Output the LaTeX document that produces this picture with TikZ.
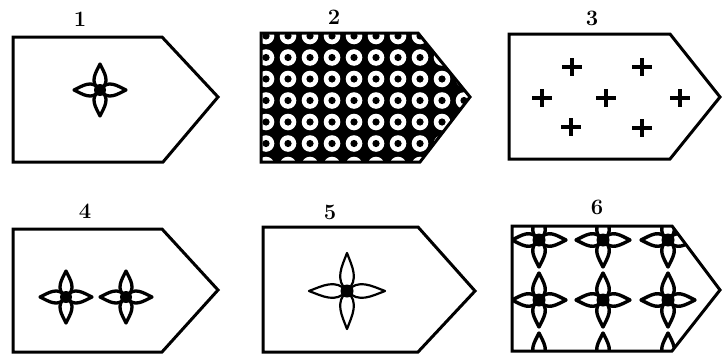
\documentclass[tikz,border=0pt]{standalone}
\usetikzlibrary{calc}
\newcommand\fstar[6]{%
  \begin{scope}[shift={(#1,#2)}]
    \foreach \a in {0,90,180,270}{
      \draw[line width=#5, line join=round, rotate=\a, fill=white]
        (0,0) .. controls (0.3*#3,#4) and (0.65*#3,0.4*#4) .. (#3,0)
              .. controls (0.65*#3,-0.4*#4) and (0.3*#3,-#4) .. (0,0);
    }
    \fill (0,0) circle (#6);
  \end{scope}}
\newcommand\plusmark[2]{%
  \draw[plusline] (#1-10,#2) -- (#1+10,#2) (#1,#2-9) -- (#1,#2+9);}
\tikzset{
  panel/.style={draw=black, line width=3pt, line join=miter},
  numlabel/.style={font=\fontsize{22}{22}\selectfont\bfseries, inner sep=0pt},
  plusline/.style={line width=3.4pt},
}
\begin{document}
\begin{tikzpicture}[x=1pt,y=-1pt]
\useasboundingbox (0,0) rectangle (722,356);
\fill[white] (0,0) rectangle (722,356);

% labels
\node[numlabel] (l1) at (80,19) {1};
\node[numlabel] (l2) at (334,17) {2};
\node[numlabel] (l3) at (592,18) {3};
\node[numlabel] (l4) at (85,211) {4};
\node[numlabel] (l5) at (330,212) {5};
\node[numlabel] (l6) at (597,207) {6};

% panel 1
\draw[panel] (13,37) -- (162,37) -- (218,97) -- (163,162) -- (13,162) -- cycle;
\fstar{100}{90}{26}{11}{3.3pt}{6}

% panel 2
\begin{scope}
  \clip (261,33) -- (418,33) -- (470,97) -- (420,162) -- (261,162) -- cycle;
  \fill[black] (261,33) -- (418,33) -- (470,97) -- (420,162) -- (261,162) -- cycle;
  \foreach \i in {0,...,9}{
    \foreach \j in {0,...,6}{
      \fill[white] (266+22*\i,36+21.5*\j) circle (8.3);
      \fill[black] (266+22*\i,36+21.5*\j) circle (3.6);
    }
  }
\end{scope}
\draw[panel] (261,33) -- (418,33) -- (470,97) -- (420,162) -- (261,162) -- cycle;

% panel 3
\draw[panel] (509,34) -- (670,34) -- (720,97) -- (670,159) -- (509,159) -- cycle;
\plusmark{572}{67}
\plusmark{642}{67}
\plusmark{542}{98}
\plusmark{606}{98}
\plusmark{680}{98}
\plusmark{571}{127}
\plusmark{642}{128}

% panel 4
\draw[panel] (13,229) -- (162,229) -- (218,290) -- (162,352) -- (13,352) -- cycle;
\fstar{66}{297}{26}{11}{3.3pt}{6}
\fstar{126}{297}{26}{11}{3.3pt}{6}

% panel 5
\draw[panel] (263,227) -- (418,227) -- (475,291) -- (418,352) -- (263,352) -- cycle;
\fstar{347}{291}{38}{12.5}{2.2pt}{6.5}

% panel 6
\begin{scope}
  \clip (512,226) -- (672,226) -- (720,290) -- (672,351) -- (512,351) -- cycle;
  \foreach \cx in {539,603,668}{
    \foreach \cy in {240,300,360}{
      \fstar{\cx}{\cy}{27}{11.5}{3.4pt}{6.5}
    }
  }
\end{scope}
\draw[panel] (512,226) -- (672,226) -- (720,290) -- (672,351) -- (512,351) -- cycle;
\end{tikzpicture}
\end{document}
